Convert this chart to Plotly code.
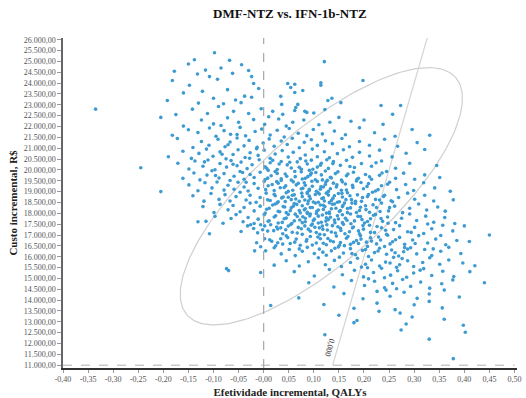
import numpy as np
import plotly.graph_objects as go

title = "DMF-NTZ vs. IFN-1b-NTZ"
x_title = "Efetividade incremental, QALYs"
y_title = "Custo incremental, R$"

# incremental (QALY, cost in thousands R$) pairs
samples = [
(-0.098,25.40),(-0.138,25.08),(-0.068,25.05),(0.121,24.99),
(-0.150,24.88),(-0.044,24.85),(-0.116,24.60),(-0.085,24.70),(-0.178,24.55),(-0.030,24.58),
(-0.182,24.12),(-0.108,24.30),(-0.024,24.30),(-0.092,24.18),(0.114,24.02),(0.198,24.12),(-0.132,24.42),(-0.062,24.45),
(-0.020,23.98),(0.048,23.98),(0.062,23.95),(0.054,23.80),(0.114,23.90),(-0.010,23.75),(0.078,23.66),(0.062,23.57),(-0.148,23.90),(-0.072,23.70),(-0.122,23.62),(-0.160,23.55),
(0.034,23.39),(0.128,23.20),(0.136,23.30),(0.154,23.10),(0.036,23.02),(0.068,23.02),(-0.038,23.40),(-0.024,23.35),(-0.045,23.10),(-0.192,23.20),(-0.100,23.30),(-0.130,23.08),(-0.080,23.05),(-0.056,23.22),
(0.064,22.88),(0.062,22.74),(0.082,22.70),(0.086,22.65),(0.018,22.70),(0.038,22.56),(0.234,22.97),(0.273,22.97),(0.257,22.56),(-0.335,22.80),(-0.142,22.80),(-0.112,22.60),(-0.090,22.92),(-0.060,22.70),(-0.030,22.60),(-0.005,22.82),(0.100,22.62),(0.122,22.78),(-0.175,22.55),
(0.238,22.10),(0.174,22.24),(-0.160,22.02),(-0.124,22.30),(-0.100,22.12),(-0.072,22.40),(-0.050,22.20),(-0.020,22.32),(0.002,22.10),(0.030,22.35),(0.058,22.20),(0.080,22.30),(0.110,22.08),(0.132,22.20),(0.150,22.42),(0.200,22.30),(-0.205,22.42),(-0.085,22.05),(0.010,22.45),(0.045,22.02),
(-0.182,21.60),(-0.150,21.85),(-0.131,21.72),(-0.108,21.93),(-0.095,21.55),(-0.079,21.81),(-0.066,21.64),(-0.047,21.96),(-0.036,21.57),(-0.017,21.77),(-0.004,21.88),(0.013,21.61),(0.027,21.83),(0.041,21.52),(0.051,21.91),(0.069,21.69),(0.086,21.58),(0.099,21.86),(0.117,21.66),(0.141,21.79),(0.163,21.62),(0.191,21.94),(0.221,21.71),(0.262,21.55),(0.331,21.60),(0.296,21.86),
(-0.172,21.45),(-0.141,21.03),(-0.124,21.31),(-0.109,21.14),(-0.091,21.41),(-0.077,21.07),(-0.067,21.29),(-0.053,21.47),(-0.039,21.11),(-0.029,21.36),(-0.013,21.04),(-0.001,21.24),(0.011,21.43),(0.021,21.09),(0.035,21.33),(0.047,21.17),(0.057,21.46),(0.071,21.02),(0.081,21.27),(0.095,21.39),(0.107,21.13),(0.123,21.34),(0.137,21.21),(0.156,21.45),(0.171,21.07),(0.191,21.31),(0.211,21.14),(0.241,21.41),(0.267,21.09),(0.306,21.26),
(-0.190,20.61),(-0.161,20.86),(-0.144,20.53),(-0.129,20.76),(-0.114,20.96),(-0.101,20.63),(-0.087,20.83),(-0.075,20.51),(-0.061,20.71),(-0.051,20.93),(-0.037,20.57),(-0.027,20.79),(-0.011,20.67),(0.001,20.91),(0.013,20.54),(0.023,20.73),(0.037,20.89),(0.049,20.59),(0.059,20.81),(0.073,20.52),(0.083,20.69),(0.097,20.96),(0.107,20.61),(0.121,20.84),(0.131,20.56),(0.147,20.75),(0.159,20.93),(0.177,20.58),(0.191,20.81),(0.211,20.64),(0.231,20.91),(0.256,20.60),(0.284,20.77),(0.321,20.94),
(-0.245,20.10),(-0.171,20.31),(-0.149,20.04),(-0.137,20.41),(-0.121,20.17),(-0.111,20.46),(-0.097,20.01),(-0.087,20.29),(-0.074,20.13),(-0.065,20.43),(-0.053,20.19),(-0.045,20.36),(-0.033,20.06),(-0.023,20.24),(-0.009,20.47),(0.003,20.14),(0.013,20.33),(0.027,20.02),(0.035,20.39),(0.047,20.23),(0.055,20.09),(0.067,20.37),(0.075,20.03),(0.087,20.27),(0.095,20.45),(0.107,20.13),(0.115,20.31),(0.129,20.07),(0.139,20.38),(0.153,20.21),(0.165,20.44),(0.181,20.11),(0.195,20.29),(0.215,20.17),(0.235,20.41),(0.263,20.08),(0.291,20.31),(0.345,20.20),
(-0.161,19.61),(-0.139,19.86),(-0.127,19.54),(-0.113,19.76),(-0.103,19.96),(-0.089,19.63),(-0.079,19.83),(-0.067,19.51),(-0.059,19.71),(-0.047,19.93),(-0.039,19.57),(-0.027,19.79),(-0.019,19.65),(-0.007,19.89),(0.003,19.56),(0.015,19.73),(0.023,19.93),(0.035,19.59),(0.043,19.81),(0.055,19.53),(0.063,19.69),(0.075,19.91),(0.083,19.61),(0.095,19.85),(0.103,19.55),(0.115,19.77),(0.123,19.95),(0.135,19.63),(0.143,19.83),(0.155,19.53),(0.165,19.73),(0.179,19.89),(0.189,19.61),(0.203,19.79),(0.215,19.57),(0.231,19.75),(0.245,19.93),(0.263,19.61),(0.279,19.85),(0.301,19.57),(0.321,19.77),(0.351,19.65),(0.009,19.98),(0.091,19.98),
(-0.205,19.00),(-0.149,19.31),(-0.131,19.04),(-0.117,19.41),(-0.103,19.17),(-0.093,19.44),(-0.079,19.07),(-0.071,19.29),(-0.059,19.11),(-0.051,19.43),(-0.039,19.21),(-0.031,19.03),(-0.019,19.37),(-0.011,19.15),(0.001,19.47),(0.009,19.27),(0.021,19.05),(0.029,19.39),(0.041,19.19),(0.049,19.01),(0.059,19.45),(0.065,19.31),(0.075,19.13),(0.081,19.41),(0.091,19.05),(0.097,19.25),(0.107,19.47),(0.113,19.11),(0.123,19.33),(0.129,19.01),(0.139,19.39),(0.145,19.21),(0.157,19.45),(0.165,19.07),(0.177,19.29),(0.185,19.49),(0.199,19.13),(0.209,19.37),(0.223,19.03),(0.235,19.27),(0.251,19.43),(0.265,19.09),(0.283,19.33),(0.299,19.05),(0.319,19.41),(0.341,19.17),(0.372,19.02),(0.119,19.21),
(-0.141,18.81),(-0.119,18.56),(-0.105,18.91),(-0.089,18.64),(-0.077,18.86),(-0.067,18.57),(-0.055,18.77),(-0.047,18.97),(-0.035,18.61),(-0.027,18.83),(-0.015,18.51),(-0.007,18.73),(0.005,18.93),(0.013,18.59),(0.023,18.81),(0.029,18.53),(0.039,18.75),(0.045,18.95),(0.055,18.63),(0.061,18.85),(0.071,18.55),(0.077,18.77),(0.087,18.97),(0.093,18.67),(0.103,18.87),(0.109,18.51),(0.119,18.71),(0.125,18.93),(0.135,18.59),(0.141,18.81),(0.151,18.53),(0.157,18.75),(0.167,18.95),(0.175,18.63),(0.187,18.85),(0.195,18.55),(0.207,18.77),(0.217,18.97),(0.231,18.61),(0.241,18.83),(0.257,18.53),(0.269,18.73),(0.287,18.93),(0.301,18.65),(0.321,18.83),(0.339,18.57),(0.378,18.62),(0.111,18.89),(0.089,18.57),(0.149,18.91),
(-0.121,18.31),(-0.099,18.04),(-0.087,18.41),(-0.071,18.16),(-0.061,18.36),(-0.047,18.07),(-0.039,18.27),(-0.027,18.47),(-0.019,18.11),(-0.007,18.33),(0.003,18.01),(0.011,18.23),(0.023,18.43),(0.029,18.09),(0.039,18.31),(0.045,18.03),(0.055,18.25),(0.061,18.45),(0.071,18.13),(0.077,18.35),(0.087,18.05),(0.093,18.27),(0.103,18.47),(0.109,18.15),(0.119,18.37),(0.125,18.01),(0.135,18.21),(0.141,18.43),(0.151,18.09),(0.157,18.31),(0.167,18.03),(0.173,18.25),(0.183,18.45),(0.191,18.13),(0.203,18.35),(0.211,18.05),(0.225,18.27),(0.235,18.47),(0.249,18.11),(0.261,18.33),(0.277,18.03),(0.291,18.23),(0.309,18.43),(0.325,18.15),(0.347,18.29),(0.362,18.10),(0.131,18.49),(0.105,17.99),(0.161,18.47),(0.083,18.21),
(-0.131,17.61),(-0.115,17.63),(-0.097,17.86),(-0.081,17.54),(-0.065,17.76),(-0.055,17.94),(-0.041,17.61),(-0.031,17.81),(-0.019,17.53),(-0.011,17.73),(0.001,17.93),(0.009,17.63),(0.021,17.83),(0.029,17.55),(0.041,17.75),(0.049,17.95),(0.061,17.65),(0.067,17.85),(0.077,17.57),(0.083,17.77),(0.093,17.97),(0.099,17.67),(0.109,17.87),(0.115,17.59),(0.125,17.79),(0.131,17.99),(0.141,17.69),(0.147,17.89),(0.157,17.57),(0.163,17.77),(0.173,17.97),(0.181,17.65),(0.193,17.85),(0.201,17.55),(0.213,17.75),(0.223,17.95),(0.237,17.63),(0.247,17.83),(0.263,17.57),(0.275,17.77),(0.291,17.97),(0.305,17.67),(0.323,17.87),(0.339,17.59),(0.361,17.81),(0.381,17.53),(0.400,17.42),(0.129,17.71),(0.097,17.51),
(-0.108,17.06),(-0.045,17.16),(-0.032,17.42),(-0.026,17.47),(-0.020,17.30),(-0.012,17.10),(-0.006,17.47),(-0.002,17.24),(0.002,17.42),(0.014,17.47),(0.020,17.20),(0.028,17.28),(0.034,17.33),(0.038,17.06),(0.049,17.41),(0.057,17.13),(0.069,17.35),(0.077,17.03),(0.089,17.27),(0.095,17.45),(0.105,17.11),(0.111,17.33),(0.121,17.01),(0.127,17.23),(0.137,17.43),(0.143,17.09),(0.153,17.31),(0.159,17.49),(0.171,17.15),(0.179,17.37),(0.191,17.05),(0.199,17.27),(0.211,17.45),(0.221,17.11),(0.235,17.33),(0.245,17.03),(0.259,17.25),(0.271,17.43),(0.287,17.15),(0.301,17.35),(0.319,17.07),(0.335,17.29),(0.357,17.45),(0.377,17.19),(0.450,17.00),(0.117,17.41),
(0.034,16.83),(0.028,16.64),(0.024,16.50),(-0.014,16.64),(0.002,16.83),(0.012,16.78),(0.045,16.96),(0.053,16.61),(0.065,16.81),(0.073,16.53),(0.085,16.71),(0.093,16.93),(0.105,16.63),(0.113,16.83),(0.125,16.55),(0.133,16.73),(0.145,16.95),(0.153,16.65),(0.165,16.85),(0.173,16.57),(0.185,16.75),(0.193,16.97),(0.205,16.67),(0.213,16.87),(0.225,16.59),(0.233,16.77),(0.247,16.99),(0.257,16.69),(0.271,16.89),(0.281,16.57),(0.297,16.77),(0.309,16.97),(0.327,16.63),(0.343,16.81),(0.363,16.55),(0.385,16.75),(0.410,16.70),(0.161,16.51),(0.189,16.61),
(-0.006,16.46),(0.004,16.27),(-0.018,16.27),(0.021,16.41),(0.035,16.13),(0.051,16.33),(0.063,16.05),(0.077,16.25),(0.087,16.43),(0.101,16.15),(0.111,16.35),(0.125,16.07),(0.135,16.27),(0.149,16.45),(0.159,16.17),(0.173,16.37),(0.183,16.09),(0.197,16.29),(0.207,16.47),(0.221,16.19),(0.231,16.39),(0.245,16.11),(0.255,16.31),(0.269,16.03),(0.279,16.23),(0.293,16.41),(0.305,16.13),(0.321,16.33),(0.335,16.05),(0.353,16.25),(0.369,16.43),(0.393,16.15),(0.241,16.47),(0.209,16.01),
(0.021,15.61),(0.045,15.81),(0.071,15.57),(0.089,15.77),(0.109,15.95),(0.123,15.63),(0.141,15.83),(0.155,15.55),(0.173,15.73),(0.187,15.93),(0.203,15.65),(0.215,15.85),(0.231,15.57),(0.243,15.75),(0.259,15.97),(0.271,15.63),(0.287,15.81),(0.299,15.55),(0.317,15.73),(0.331,15.95),(0.351,15.65),(0.369,15.85),(0.397,15.71),(0.421,15.58),(0.265,15.51),(0.195,15.52),(0.151,15.98),
(-0.074,15.45),(-0.070,15.36),(-0.006,15.27),(0.061,15.31),(0.101,15.11),(0.131,15.41),(0.157,15.17),(0.181,15.37),(0.199,15.07),(0.219,15.27),(0.235,15.47),(0.253,15.15),(0.267,15.35),(0.285,15.05),(0.299,15.25),(0.319,15.45),(0.335,15.13),(0.357,15.33),(0.379,15.09),(0.411,15.31),(0.241,15.03),(0.207,15.49),
(0.090,14.80),(0.140,14.60),(0.175,14.90),(0.201,14.67),(0.221,14.87),(0.241,14.57),(0.257,14.77),(0.277,14.95),(0.293,14.63),(0.313,14.83),(0.331,14.55),(0.355,14.75),(0.377,14.93),(0.440,14.80),(0.265,14.52),(0.209,14.98),
(0.070,14.10),(0.160,14.30),(0.198,14.06),(0.226,14.40),(0.252,14.18),(0.280,14.36),(0.306,14.08),(0.330,14.28),(0.360,14.46),(0.390,14.14),(0.244,14.46),
(0.014,13.75),(0.120,13.80),(0.180,13.62),(0.226,13.86),(0.262,13.56),(0.300,13.78),(0.356,13.64),(0.330,13.94),
(0.150,13.30),(0.230,13.48),(0.186,13.06),(0.296,13.22),(0.272,13.40),(0.360,13.12),
(0.180,12.96),(0.274,12.62),(0.284,12.90),(0.398,12.84),(0.402,12.52),
(0.122,12.40),(0.330,12.20),
(0.378,11.30),
]

# extra draws in the dense centre of the cloud
core_samples = [
(0.006,20.08),(0.031,20.27),(0.018,20.44),(0.052,20.35),(0.071,20.12),(0.084,20.41),(0.113,20.22),(0.098,20.03),(0.138,20.29),(0.126,20.47),(0.172,20.16),(0.224,20.33),
(0.008,19.62),(0.027,19.84),(0.035,19.51),(0.046,19.71),(0.062,19.93),(0.077,19.58),(0.088,19.69),(0.104,19.88),(0.117,19.54),(0.093,19.77),(0.133,19.66),(0.148,19.91),(0.127,19.52),(0.168,19.81),(0.186,19.57),(0.211,19.68),(0.236,19.86),
(0.004,19.09),(0.017,19.33),(0.033,19.18),(0.026,19.46),(0.044,19.27),(0.058,19.06),(0.069,19.38),(0.078,19.15),(0.083,19.29),(0.096,19.48),(0.105,19.02),(0.114,19.22),(0.091,19.11),(0.124,19.44),(0.133,19.13),(0.146,19.31),(0.155,19.06),(0.163,19.35),(0.178,19.19),(0.194,19.42),(0.206,19.24),(0.228,19.09),(0.247,19.34),
(0.008,18.62),(0.021,18.88),(0.036,18.71),(0.043,18.54),(0.057,18.83),(0.064,18.66),(0.076,18.93),(0.049,18.74),(0.082,18.61),(0.091,18.79),(0.099,18.52),(0.108,18.96),(0.116,18.68),(0.087,18.91),(0.121,18.57),(0.129,18.84),(0.138,18.69),(0.147,18.51),(0.156,18.92),(0.164,18.63),(0.172,18.81),(0.183,18.55),(0.197,18.73),(0.209,18.87),(0.223,18.64),(0.239,18.78),(0.254,18.58),
(0.006,18.19),(0.018,18.38),(0.032,18.07),(0.027,18.48),(0.042,18.29),(0.053,18.12),(0.066,18.41),(0.073,18.02),(0.059,18.33),(0.081,18.16),(0.088,18.44),(0.097,18.27),(0.106,18.09),(0.113,18.38),(0.119,18.18),(0.122,18.31),(0.131,18.06),(0.137,18.42),(0.144,18.23),(0.153,18.13),(0.158,18.36),(0.167,18.22),(0.176,18.47),(0.185,18.04),(0.193,18.28),(0.204,18.17),(0.218,18.39),(0.232,18.08),(0.251,18.26),
(0.011,17.66),(0.024,17.89),(0.037,17.58),(0.045,17.78),(0.056,17.53),(0.063,17.96),(0.072,17.69),(0.078,17.84),(0.083,17.61),(0.092,17.88),(0.101,17.73),(0.109,17.55),(0.117,17.92),(0.087,17.99),(0.124,17.64),(0.133,17.82),(0.142,17.57),(0.149,17.74),(0.157,17.93),(0.166,17.68),(0.174,17.52),(0.188,17.86),(0.196,17.71),(0.207,17.62),(0.219,17.91),(0.234,17.76),(0.248,17.54),
(0.008,17.18),(0.026,17.37),(0.044,17.24),(0.054,17.48),(0.067,17.09),(0.075,17.29),(0.082,17.42),(0.093,17.17),(0.102,17.36),(0.112,17.03),(0.118,17.26),(0.126,17.47),(0.135,17.14),(0.148,17.38),(0.154,17.21),(0.162,17.06),(0.177,17.33),(0.189,17.19),(0.198,17.44),(0.213,17.12),(0.226,17.39),(0.243,17.22),
(0.016,16.71),(0.038,16.58),(0.048,16.88),(0.062,16.67),(0.086,16.79),(0.097,16.54),(0.108,16.91),(0.119,16.62),(0.128,16.84),(0.139,16.69),(0.151,16.53),(0.168,16.93),(0.179,16.66),(0.194,16.81),(0.215,16.72),(0.229,16.91),(0.252,16.59),
(0.071,16.36),(0.118,16.21),(0.142,16.39),(0.176,16.14),(0.203,16.33),(0.228,16.26),(0.262,16.18),(0.287,16.35),
(0.263,16.78),(0.281,16.42),(0.302,16.61),(0.276,15.92),(0.312,15.38),(0.338,16.36),(0.252,15.71),(0.294,17.12),(0.327,17.51),(0.353,16.98),
(-0.083,20.72),(-0.061,20.26),(-0.042,19.88),(-0.071,21.16),(-0.028,20.54),(-0.096,19.74),(-0.053,21.63),(-0.014,20.98),(-0.118,20.37),(-0.035,19.43),
]

all_samples = samples + core_samples
qaly = [p[0] for p in all_samples]
cost = [p[1] * 1000 for p in all_samples]

# 95% confidence ellipse: centre and conjugate semi-axis vectors (data units)
ell_center = (0.115, 18785)
ell_axis_a = (0.2675, 5478)
ell_axis_b = (0.0867, -2270)

wtp = 80000          # willingness-to-pay line slope, R$/QALY
wtp_label = "0,000"

x_ticks = [-0.40, -0.35, -0.30, -0.25, -0.20, -0.15, -0.10, -0.05, 0.00,
           0.05, 0.10, 0.15, 0.20, 0.25, 0.30, 0.35, 0.40, 0.45, 0.50]
y_ticks = list(range(11000, 26001, 500))

x_text = [("-" if v < 0 else "") + f"{abs(v):.2f}".replace(".", ",") for v in x_ticks]
x_text[8] = "-0,00"
y_text = [f"{v:,.2f}".replace(",", "X").replace(".", ",").replace("X", ".") for v in y_ticks]

t = np.linspace(0, 2 * np.pi, 200)
ex = ell_center[0] + ell_axis_a[0] * np.cos(t) + ell_axis_b[0] * np.sin(t)
ey = ell_center[1] + ell_axis_a[1] * np.cos(t) + ell_axis_b[1] * np.sin(t)

fig = go.Figure()
fig.add_trace(go.Scatter(x=ex, y=ey, mode="lines",
                         line=dict(color="#cfcfcf", width=1.2), hoverinfo="skip"))
wy = [11000, 26100]
fig.add_trace(go.Scatter(x=[v / wtp for v in wy], y=wy, mode="lines",
                         line=dict(color="#d4d4d4", width=1.2), hoverinfo="skip"))
fig.add_trace(go.Scatter(x=qaly, y=cost, mode="markers",
                         marker=dict(color="#3d9bd2", size=3.6, line=dict(width=0))))

fig.add_shape(type="line", x0=0, x1=0, y0=10870, y1=26080, xref="x", yref="y",
              line=dict(color="#a8a8a8", width=1.2, dash="dash"))
fig.add_shape(type="line", x0=-0.40, x1=0.50, y0=11000, y1=11000, xref="x", yref="y",
              line=dict(color="#b0b0b0", width=1, dash="dash"))

fig.add_annotation(x=0.131, y=11800, text=wtp_label, showarrow=False, textangle=106,
                   font=dict(family="Liberation Serif", size=8, color="#333333"))

fig.update_layout(
    width=526, height=398,
    margin=dict(l=63, r=9, t=38, b=30),
    paper_bgcolor="white", plot_bgcolor="white",
    showlegend=False,
    title=dict(text="<b>" + title + "</b>", x=0.551, xanchor="center", y=0.965, yanchor="middle",
               font=dict(family="Liberation Serif", size=13, color="#111111")),
    font=dict(family="Liberation Serif", color="#555555"),
    xaxis=dict(range=[-0.40, 0.505], tickvals=x_ticks, ticktext=x_text, showgrid=False,
               zeroline=False, showline=True, linecolor="#333333", linewidth=1.5,
               ticks="outside", ticklen=3, tickcolor="#999999", automargin=False,
               tickfont=dict(family="Liberation Serif", size=8, color="#555555"),
               title=dict(text="<b>" + x_title + "</b>", standoff=9,
                          font=dict(family="Liberation Serif", size=11, color="#222222"))),
    yaxis=dict(range=[10870, 26080], tickvals=y_ticks, ticktext=y_text, showgrid=False,
               zeroline=False, showline=True, linecolor="#666666", linewidth=1.5,
               ticks="outside", ticklen=4, tickcolor="#999999", automargin=False,
               tickfont=dict(family="Liberation Serif", size=8, color="#555555"),
               title=dict(text="<b>" + y_title + "</b>", standoff=4,
                          font=dict(family="Liberation Serif", size=11, color="#222222"))),
)

fig.write_html("out.html")
